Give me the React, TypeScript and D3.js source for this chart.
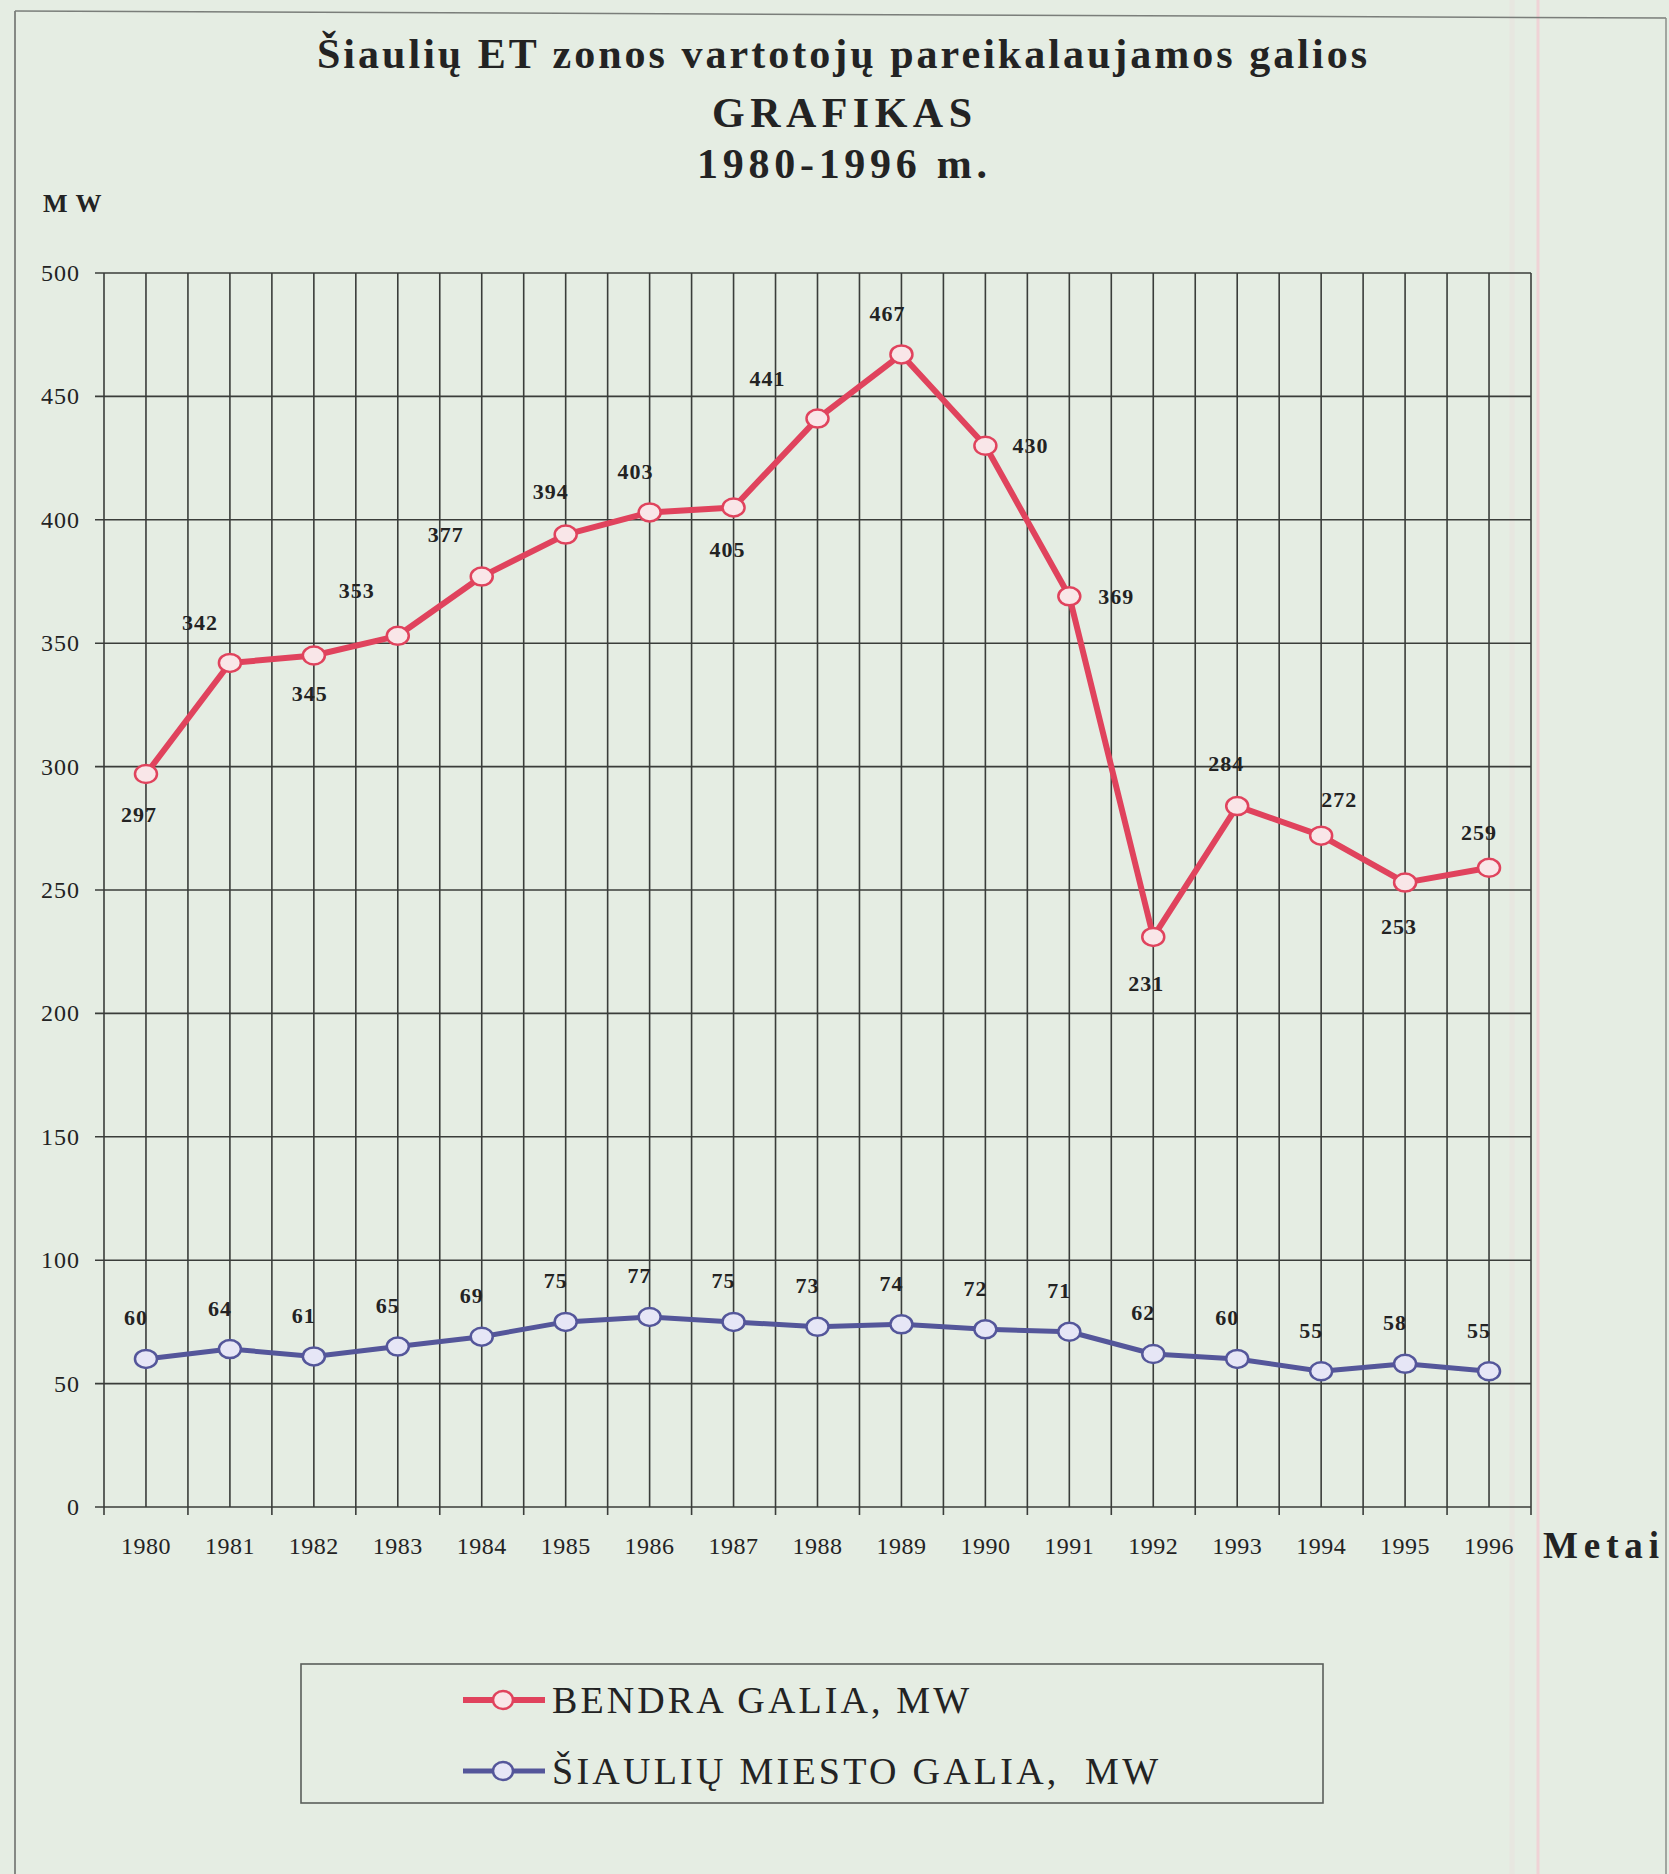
import React from 'react';
import * as d3 from 'd3';

const years = [1980, 1981, 1982, 1983, 1984, 1985, 1986, 1987, 1988, 1989, 1990, 1991, 1992, 1993, 1994, 1995, 1996];
const bendraGalia = [297, 342, 345, 353, 377, 394, 403, 405, 441, 467, 430, 369, 231, 284, 272, 253, 259];
const miestoGalia = [60, 64, 61, 65, 69, 75, 77, 75, 73, 74, 72, 71, 62, 60, 55, 58, 55];
const yTicks = [0, 50, 100, 150, 200, 250, 300, 350, 400, 450, 500];
const titleLines = ['Šiaulių ET zonos vartotojų pareikalaujamos galios', 'GRAFIKAS', '1980-1996 m.'];
const legendLabels = ['BENDRA GALIA, MW', 'ŠIAULIŲ MIESTO GALIA,  MW'];
const yAxisTitle = 'M W';
const xAxisTitle = 'Metai';

// label placement (pixel offsets of label centre from the point)
const bendraLabelOffsets = [
  [-7, 40], [-30, -40], [-4, 38], [-41, -45], [-36, -42], [-15, -43], [-14, -41], [-6, 42],
  [-50, -40], [-14, -41], [45, 0], [47, 0], [-7, 47], [-11, -43], [18, -36], [-6, 44], [-10, -35],
];
const miestoLabelOffset = [-10, -41];

const W = 1669;
const H = 1874;
const BG = '#e5ede3';
const RED = '#e0435d';
const RED_FILL = '#f9e6e8';
const BLUE = '#54569a';
const BLUE_FILL = '#e6e6f6';
const GRID = '#3a3d3a';
const TEXT = '#232323';
const SERIF = '"Liberation Serif", "DejaVu Serif", serif';

export default function App() {
  const x = d3.scaleLinear().domain([1979.5, 1996.5]).range([104, 1531]);
  const y = d3.scaleLinear().domain([0, 500]).range([1507, 273]);
  const vLines = d3.range(1979.5, 1996.51, 0.5);

  const line = d3
    .line<number>()
    .x((_, i) => x(years[i]))
    .y((d) => y(d));

  const series = [
    { values: bendraGalia, color: RED, fill: RED_FILL, width: 6 },
    { values: miestoGalia, color: BLUE, fill: BLUE_FILL, width: 5 },
  ];

  return (
    <svg
      width={W}
      height={H}
      style={{ position: 'absolute', left: 0, top: 0, display: 'block' }}
      fontFamily={SERIF}
    >
      <rect x={0} y={0} width={W} height={H} fill={BG} />
      {/* scan artefacts: pink margin lines and page frame */}
      <line x1={1512} x2={1512} y1={0} y2={H} stroke="#ecdcdc" strokeWidth={5} opacity={0.35} />
      <line x1={1538} x2={1538} y1={0} y2={H} stroke="#efd3d6" strokeWidth={3} />
      <line x1={15} y1={11} x2={1666} y2={18} stroke="#7a7e7a" strokeWidth={1.5} />
      <line x1={15} y1={11} x2={15} y2={H} stroke="#7a7e7a" strokeWidth={1.8} />
      <line x1={1666} y1={18} x2={1666} y2={H} stroke="#8a8e8a" strokeWidth={1.5} />

      {/* title */}
      {titleLines.map((t, i) => (
        <text
          key={i}
          x={842}
          y={[68, 127, 178][i]}
          textAnchor="middle"
          fontSize={42}
          fontWeight="bold"
          fill={TEXT}
          textLength={[1050, 260, 290][i]}
          lengthAdjust="spacing"
        >
          {t}
        </text>
      ))}

      <text x={43} y={212} fontSize={26} fontWeight="bold" fill={TEXT} letterSpacing={1} style={{ whiteSpace: 'pre' }}>
        {yAxisTitle}
      </text>

      {/* horizontal grid */}
      {yTicks.map((t) => (
        <g key={t}>
          <line x1={95} x2={x(1996.5)} y1={y(t)} y2={y(t)} stroke={GRID} strokeWidth={1.6} />
          <text
            x={80}
            y={y(t)}
            textAnchor="end"
            dominantBaseline="central"
            fontSize={24}
            fill={TEXT}
            letterSpacing={1}
          >
            {t}
          </text>
        </g>
      ))}

      {/* vertical grid */}
      {vLines.map((v, i) => (
        <line
          key={i}
          x1={x(v)}
          x2={x(v)}
          y1={y(500)}
          y2={i % 2 === 0 ? y(0) + 8 : y(0)}
          stroke={GRID}
          strokeWidth={1.6}
        />
      ))}

      {/* x tick labels */}
      {years.map((yr) => (
        <text key={yr} x={x(yr)} y={1554} textAnchor="middle" fontSize={24} fill={TEXT} letterSpacing={0.5}>
          {yr}
        </text>
      ))}
      <text x={1543} y={1558} fontSize={37} fontWeight="bold" fill={TEXT} textLength={116} lengthAdjust="spacing">
        {xAxisTitle}
      </text>

      {/* series */}
      {series.map((s, si) => (
        <g key={si}>
          <path d={line(s.values) || ''} fill="none" stroke={s.color} strokeWidth={s.width} strokeLinejoin="round" />
          {s.values.map((v, i) => (
            <ellipse
              key={i}
              cx={x(years[i])}
              cy={y(v)}
              rx={11}
              ry={9}
              fill={s.fill}
              stroke={s.color}
              strokeWidth={2.5}
            />
          ))}
        </g>
      ))}

      {/* data labels */}
      {bendraGalia.map((v, i) => (
        <text
          key={'b' + i}
          x={x(years[i]) + bendraLabelOffsets[i][0]}
          y={y(v) + bendraLabelOffsets[i][1]}
          textAnchor="middle"
          dominantBaseline="central"
          fontSize={22}
          fontWeight="bold"
          fill={TEXT}
          letterSpacing={1}
        >
          {v}
        </text>
      ))}
      {miestoGalia.map((v, i) => (
        <text
          key={'m' + i}
          x={x(years[i]) + miestoLabelOffset[0]}
          y={y(v) + miestoLabelOffset[1]}
          textAnchor="middle"
          dominantBaseline="central"
          fontSize={22}
          fontWeight="bold"
          fill={TEXT}
          letterSpacing={1}
        >
          {v}
        </text>
      ))}

      {/* legend */}
      <rect x={301} y={1664} width={1022} height={139} fill="none" stroke="#5a5e5a" strokeWidth={1.6} />
      {series.map((s, i) => {
        const ly = [1700, 1771][i];
        return (
          <g key={i}>
            <line x1={463} x2={545} y1={ly} y2={ly} stroke={s.color} strokeWidth={s.width} />
            <ellipse cx={503} cy={ly} rx={10} ry={9} fill={s.fill} stroke={s.color} strokeWidth={2.5} />
            <text
              x={552}
              y={ly}
              dominantBaseline="central"
              fontSize={38}
              fill={TEXT}
              textLength={[417, 606][i]}
              lengthAdjust="spacing"
              style={{ whiteSpace: 'pre' }}
            >
              {legendLabels[i]}
            </text>
          </g>
        );
      })}
    </svg>
  );
}
